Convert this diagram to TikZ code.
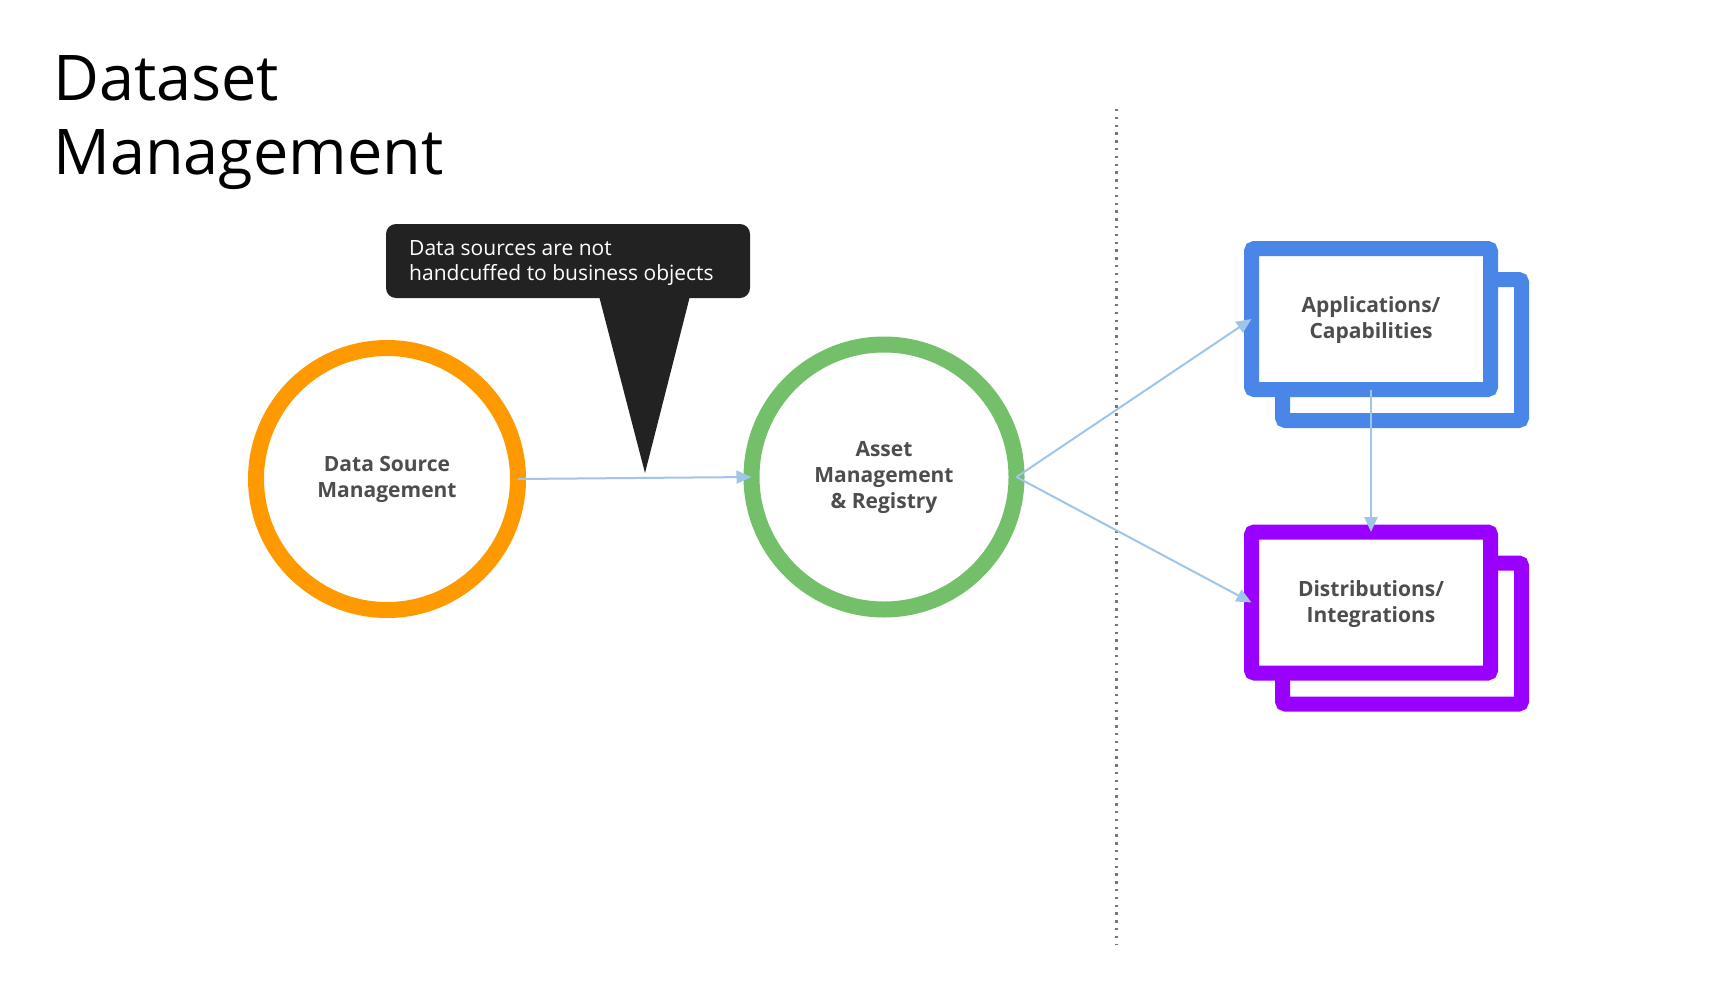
\documentclass[tikz,border=0pt]{standalone}
\usepackage{fontspec}
\setmainfont{Open Sans}
\usetikzlibrary{arrows.meta}
\definecolor{orangeC}{HTML}{FF9900}
\definecolor{greenC}{HTML}{74BF6A}
\definecolor{blueC}{HTML}{4A86E8}
\definecolor{purpleC}{HTML}{9900FF}
\definecolor{calloutC}{HTML}{222222}
\definecolor{arrowC}{HTML}{9FC5E8}
\definecolor{labelC}{HTML}{4D4D4D}
\definecolor{dotC}{HTML}{777777}
\tikzset{
  ring/.style={circle, line width=16pt, fill=white, outer sep=0pt, inner sep=0pt,
    minimum size=262pt, align=center, text=labelC,
    font=\bfseries\fontsize{21}{26}\selectfont},
  card/.style={rectangle, rounded corners=3pt, line width=15pt, fill=white, outer sep=0pt,
    minimum width=239pt, minimum height=141pt, align=center, text=labelC,
    font=\bfseries\fontsize{21}{26}\selectfont},
  flow/.style={draw=arrowC, line width=2pt, -{Triangle[length=15pt, width=13pt]}},
}
\begin{document}
\begin{tikzpicture}[x=1pt, y=-1pt]
  \fill[white] (0,0) rectangle (1715,990);
  \useasboundingbox (0,0) rectangle (1715,990);

  % title
  \node[anchor=north west, inner sep=0pt, align=left,
        font=\fontsize{63}{74}\selectfont] (title) at (53,55) {Dataset\\Management};

  % divider
  \coordinate (divtop) at (1116.5,109);
  \coordinate (divbot) at (1116.5,945);
  \draw[dotC, line width=2.4pt, dash pattern=on 2.4pt off 5.4pt] (divtop) -- (divbot);

  % callout
  \fill[calloutC, rounded corners=10pt] (386,224) rectangle (750,298);
  \fill[calloutC] (599,296) -- (690,296) -- (645,473) -- cycle;
  \node[anchor=north west, inner sep=0pt, align=left, text=white,
        font=\fontsize{21}{25}\selectfont] (note) at (409,240.5)
        {Data sources are not\\handcuffed to business objects};

  % circles
  \node[ring, draw=orangeC] (dsm) at (387,479) {Data Source\\Management};
  \node[ring, draw=greenC, minimum size=265pt] (amr) at (884,477) {Asset\\Management\\\& Registry};

  % cards
  \node[card, draw=blueC] (appback) at (1402,350) {};
  \node[card, draw=blueC] (app) at (1371,319) {\rule{0pt}{0pt}\\[-7pt]Applications/\\Capabilities};
  \node[card, draw=purpleC] (distback) at (1402,633.5) {};
  \node[card, draw=purpleC] (dist) at (1371,602.5) {\rule{0pt}{0pt}\\[-7pt]Distributions/\\Integrations};

  % connectors
  \draw[flow] (dsm.east) -- (amr.west);
  \draw[flow] (amr.east) -- (app.west);
  \draw[flow] (amr.east) -- (dist.west);
  \draw[flow] (app.south) -- (dist.north);
\end{tikzpicture}
\end{document}
